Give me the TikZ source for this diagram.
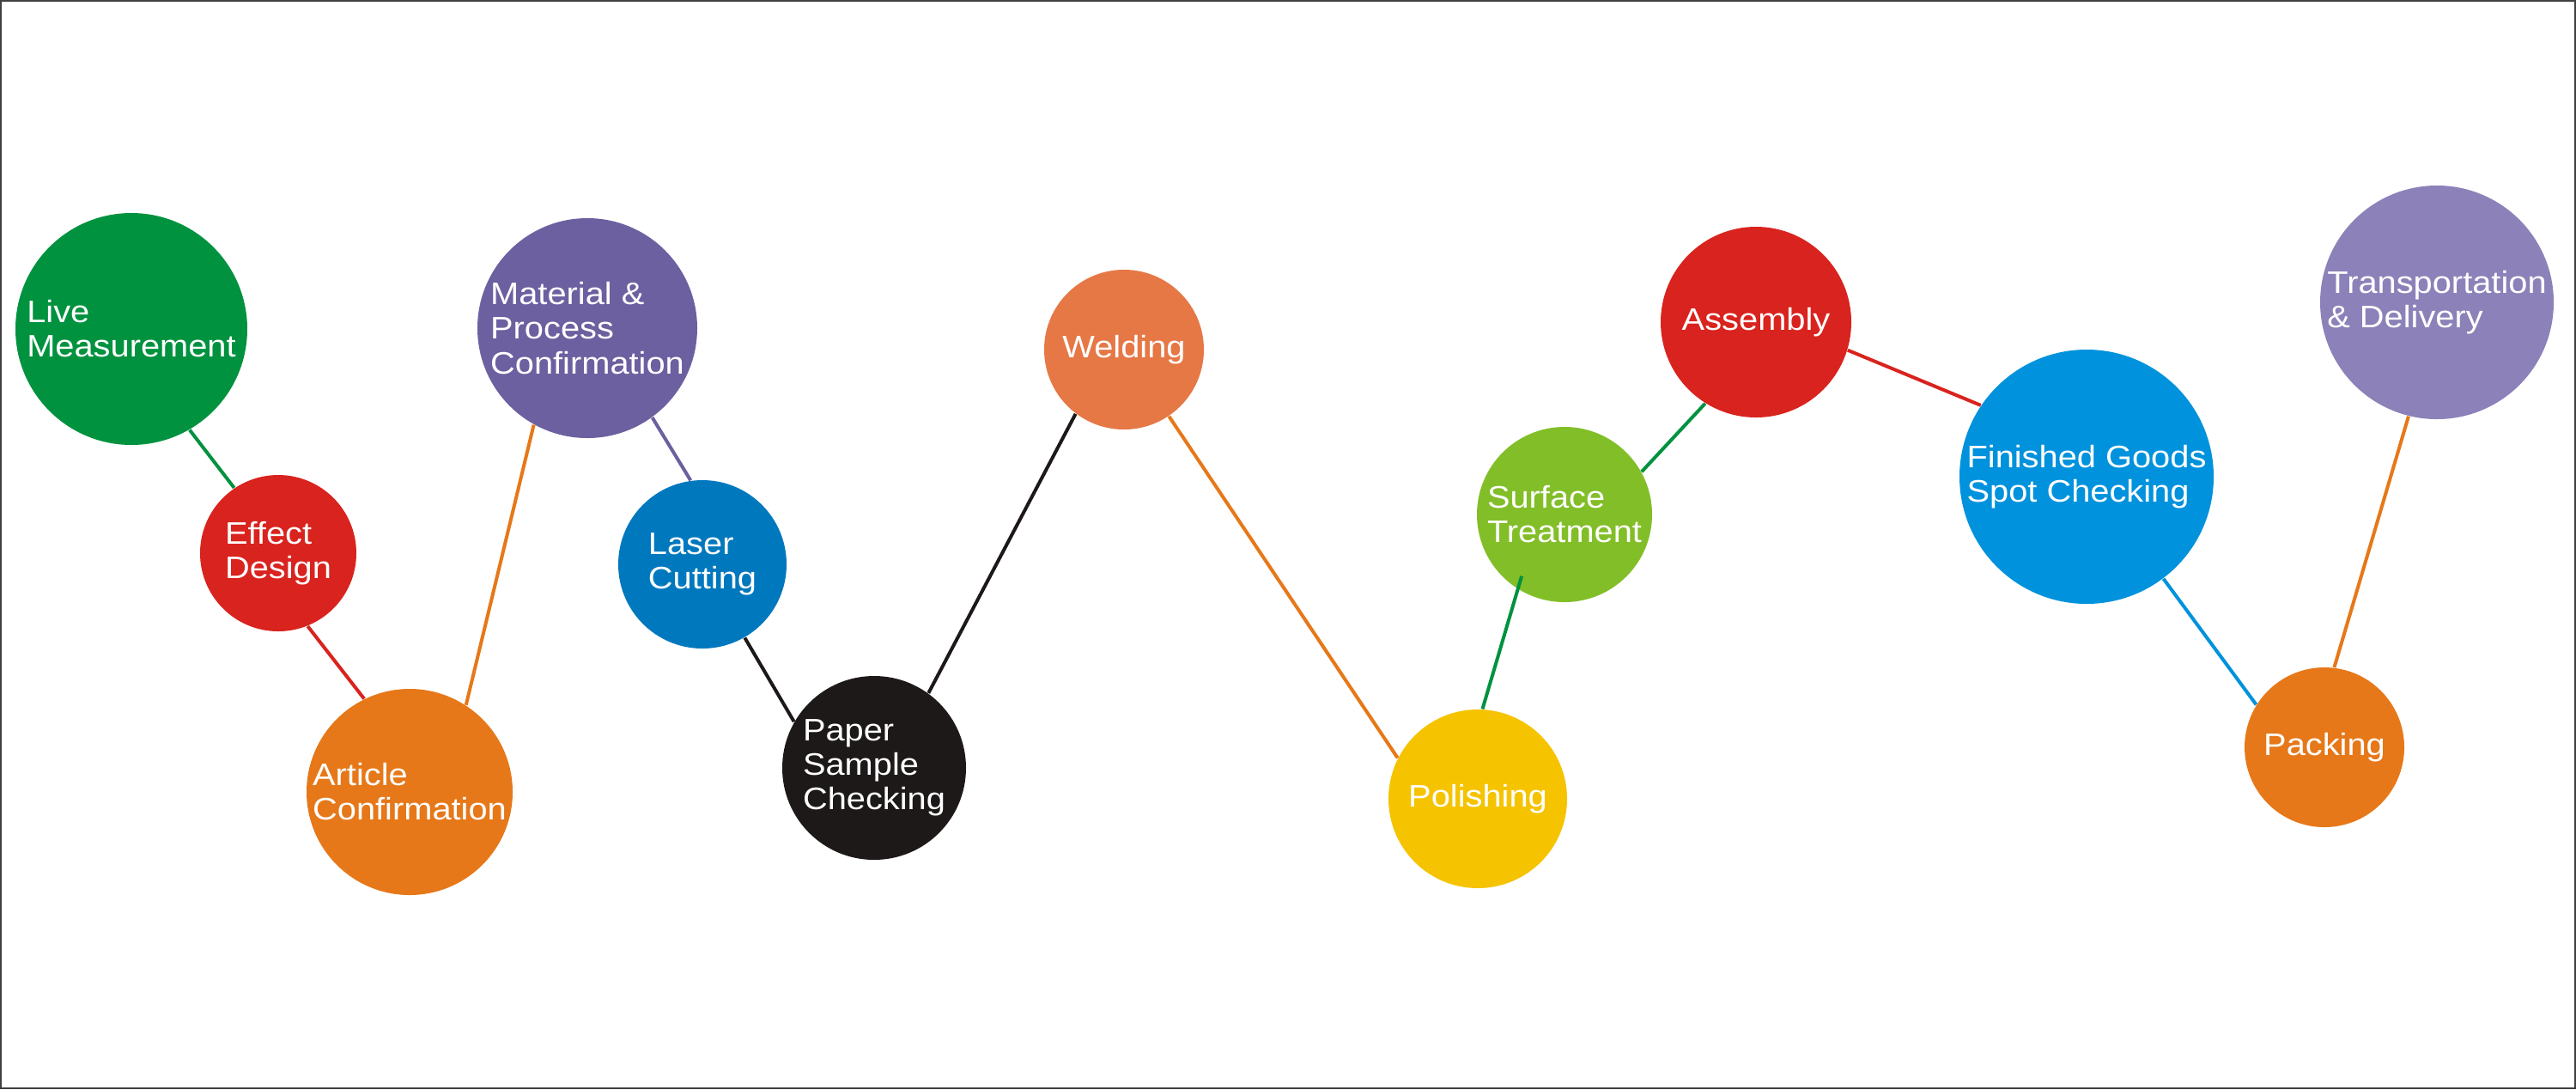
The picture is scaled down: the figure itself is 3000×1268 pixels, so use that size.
\documentclass[tikz,border=0pt]{standalone}
\usepackage{fontspec}
\newfontfamily\labelfont{Liberation Sans}[FakeStretch=1.1]
\usepackage{tikz}
\usetikzlibrary{arrows.meta}
\usepackage{xcolor}
\definecolor{framegray}{RGB}{64,64,64}
\definecolor{livegreen}{RGB}{0,146,63}
\definecolor{designred}{RGB}{217,35,30}
\definecolor{deeporange}{RGB}{230,120,25}
\definecolor{matpurple}{RGB}{108,96,160}
\definecolor{laserblue}{RGB}{0,120,190}
\definecolor{paperblack}{RGB}{30,25,25}
\definecolor{weldorange}{RGB}{230,120,70}
\definecolor{polyellow}{RGB}{245,195,0}
\definecolor{surfgreen}{RGB}{130,190,40}
\definecolor{goodsblue}{RGB}{0,146,220}
\definecolor{lavender}{RGB}{140,130,185}

\begin{document}
\begin{tikzpicture}[x=0.1mm, y=-0.1mm,
   stage/.style={circle, inner sep=0pt, align=left, text=white,
                 font={\labelfont\fontsize{10.3pt}{11.4pt}\selectfont}},
   link/.style={line width=0.4mm}]
  \useasboundingbox (0,0) rectangle (3000,1268);
  \draw[framegray, line width=0.2mm] (1,1) rectangle (2999,1267);

  % process steps
  \node[stage, fill=livegreen, minimum size=27mm] (live) at (153,383)
       {Live\\Measurement};
  \node[stage, fill=designred, minimum size=18.2mm] (effect) at (324,644)
       {Effect\\Design};
  \node[stage, fill=deeporange, minimum size=24mm] (article) at (477,922)
       {Article\\Confirmation};
  \node[stage, fill=matpurple, minimum size=25.6mm] (material) at (684,382)
       {Material \&\\Process\\Confirmation};
  \node[stage, fill=laserblue, minimum size=19.6mm] (laser) at (818,657)
       {Laser\\Cutting};
  \node[stage, fill=paperblack, minimum size=21.4mm] (paper) at (1018,894)
       {Paper\\Sample\\Checking};
  \node[stage, fill=weldorange, minimum size=18.6mm] (weld) at (1309,407)
       {Welding};
  \node[stage, fill=polyellow, minimum size=20.8mm] (polish) at (1721,930)
       {Polishing};
  \node[stage, fill=surfgreen, minimum size=20.4mm] (surface) at (1822,599)
       {Surface\\Treatment};
  \node[stage, fill=designred, minimum size=22.2mm] (assembly) at (2045,375)
       {Assembly};
  \node[stage, fill=goodsblue, minimum size=29.6mm] (goods) at (2430,555)
       {Finished Goods\\Spot Checking};
  \node[stage, fill=deeporange, minimum size=18.6mm] (packing) at (2707,870)
       {Packing};
  \node[stage, fill=lavender, minimum size=27.2mm] (transport) at (2838,352)
       {Transportation\\\& Delivery};

  % connectors
  \draw[link, livegreen] (live.-60) -- (effect.124);
  \draw[link, designred] (effect.-68) -- (article.116);
  \draw[link, deeporange] (article.57) -- (material.-119);
  \draw[link, matpurple] (material.-54) -- (laser.98);
  \draw[link, paperblack] (laser.-60) -- (paper.150);
  \draw[link, paperblack] (paper.54) -- (weld.-127);
  \draw[link, deeporange] (weld.-56) -- (polish.153);
  \draw[link, livegreen, shorten >=-1.6mm] (polish.87) -- (surface.-122);
  \draw[link, livegreen] (surface.29) -- (assembly.-122);
  \draw[link, designred] (assembly.-17) -- (goods.146);
  \draw[link, goodsblue] (goods.-53) -- (packing.148);
  \draw[link, deeporange] (packing.83) -- (transport.-104);
\end{tikzpicture}
\end{document}
